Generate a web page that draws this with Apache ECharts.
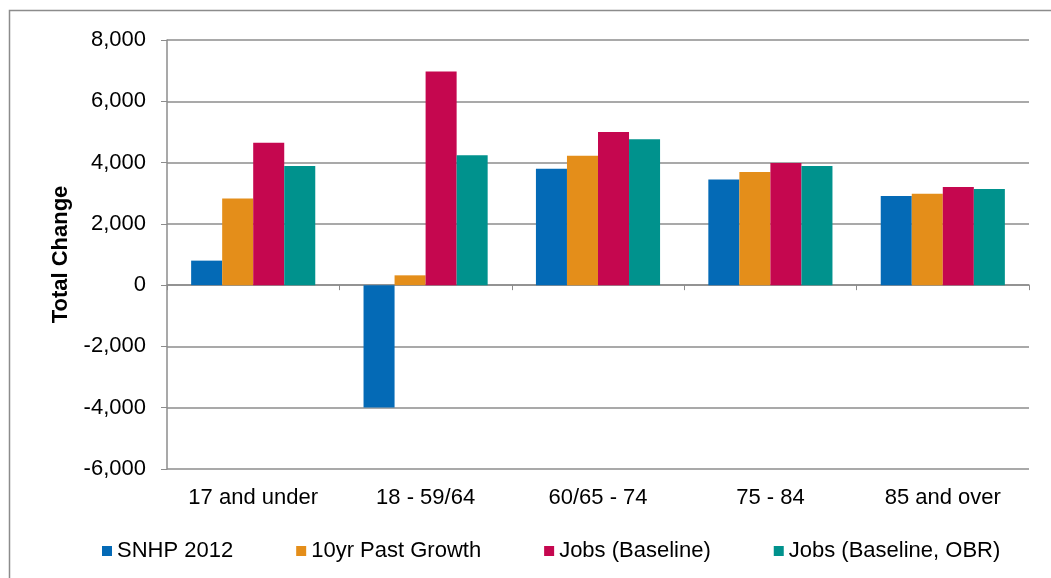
<!DOCTYPE html>
<html>
<head>
<meta charset="utf-8">
<script src="https://cdn.jsdelivr.net/npm/echarts@6/dist/echarts.min.js"></script>
<style>
  html, body { margin: 0; padding: 0; background: #fff; }
  #chart { width: 1051px; height: 578px; }
</style>
</head>
<body>
<div id="chart"></div>
<script>
const categories = ["17 and under", "18 - 59/64", "60/65 - 74", "75 - 84", "85 and over"];

const snhp2012 = [800, -3990, 3800, 3450, 2910];
const pastGrowth = [2830, 320, 4220, 3690, 2980];
const jobsBaseline = [4650, 6970, 5000, 3990, 3200];
const jobsObr = [3890, 4240, 4760, 3890, 3140];

const seriesNames = ["SNHP 2012", "10yr Past Growth", "Jobs (Baseline)", "Jobs (Baseline, OBR)"];
const colors = ["#046AB6", "#E48E1A", "#C5074F", "#00928D"];

const font = "'Liberation Sans', Arial, sans-serif";
const axisGray = "#8c8c8c";

const chart = echarts.init(document.getElementById("chart"));

const makeSeries = (name, data, i) => ({
    name: name,
    type: "bar",
    data: data,
    barGap: "0%",
    barCategoryGap: "28%",
    itemStyle: { color: colors[i] },
    emphasis: { disabled: true },
});

chart.setOption({
    animation: false,
    graphic: [
        {
            type: "rect",
            shape: { x: 9.5, y: 10.5, width: 1100, height: 600 },
            style: { fill: "none", stroke: "#8c8c8c", lineWidth: 1.5 },
            silent: true,
        },
    ],
    grid: { left: 167, right: 22, top: 40, bottom: 109 },
    legend: {
        top: 535,
        left: 97,
        itemWidth: 10,
        itemHeight: 10,
        itemGap: 63,
        icon: "rect",
        textStyle: { fontFamily: font, fontSize: 22, color: "#000" },
        data: seriesNames,
    },
    xAxis: {
        type: "category",
        data: categories,
        axisLine: { onZero: true, lineStyle: { color: axisGray, width: 1.5 } },
        axisTick: { show: true, length: 5, lineStyle: { color: axisGray } },
        axisLabel: {
            fontFamily: font,
            fontSize: 22,
            color: "#000",
            margin: 18,
        },
    },
    yAxis: {
        type: "value",
        min: -6000,
        max: 8000,
        interval: 2000,
        name: "Total Change",
        nameLocation: "middle",
        nameGap: 95,
        nameTextStyle: { fontFamily: font, fontSize: 22, fontWeight: "bold", color: "#000" },
        axisLine: { show: true, lineStyle: { color: axisGray, width: 1.5 } },
        axisTick: { show: true, length: 6, lineStyle: { color: axisGray } },
        splitLine: { lineStyle: { color: axisGray, width: 1.5 } },
        axisLabel: {
            fontFamily: font,
            fontSize: 22,
            color: "#000",
            margin: 21,
            formatter: (v) => v.toLocaleString("en-US"),
        },
    },
    series: [
        makeSeries(seriesNames[0], snhp2012, 0),
        makeSeries(seriesNames[1], pastGrowth, 1),
        makeSeries(seriesNames[2], jobsBaseline, 2),
        makeSeries(seriesNames[3], jobsObr, 3),
    ],
});
</script>
</body>
</html>
